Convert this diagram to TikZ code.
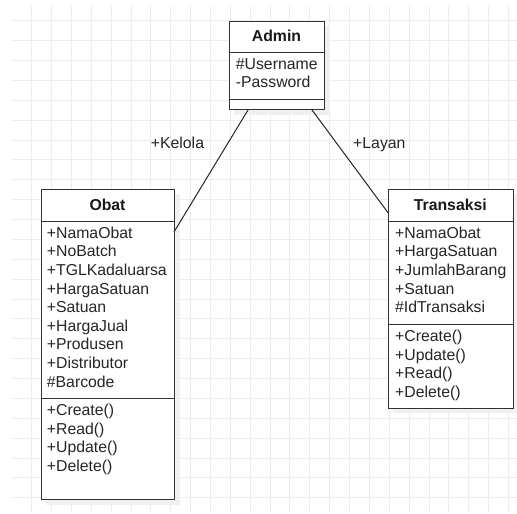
\documentclass[tikz,border=0pt]{standalone}
\usepackage{fontspec}
\setmainfont{Liberation Sans}
\begin{document}
\begin{tikzpicture}[x=1pt,y=-1pt,
  gridline/.style={draw=black!7, line width=0.8pt},
  shade/.style={fill=black!6, draw=none},
  compart/.style={draw=black!80, line width=1pt, fill=white},
  txt/.style={font=\fontsize{15.8}{18.6}\selectfont, text=black!85, inner sep=0pt, anchor=base west},
  ttl/.style={font=\fontsize{15.8}{18.6}\selectfont\bfseries, text=black!90, inner sep=0pt, anchor=base},
  assoc/.style={draw=black!85, line width=1pt}]
\useasboundingbox (0,0) rectangle (517,514);
\fill[white] (0,0) rectangle (517,514);
% grid
\foreach \k in {0,...,24} {
  \draw[gridline] ({31.7+19.86*\k},6) -- ({31.7+19.86*\k},513);
  \draw[gridline] (11.7,{20.7+19.875*\k}) -- (517,{20.7+19.875*\k});
}
% shadows
\fill[shade] (234,26) rectangle (330,115);
\fill[shade] (46,194) rectangle (180,505);
\fill[shade] (393,194) rectangle (518,413);
% Admin
\node[compart, anchor=north west, minimum width=95pt, minimum height=31pt] (adminH) at (229,21) {};
\node[compart, anchor=north west, minimum width=95pt, minimum height=47pt] (adminA) at (229,52) {};
\node[compart, anchor=north west, minimum width=95pt, minimum height=10pt] (adminM) at (229,99) {};
\node[ttl] (adminT) at (276.5,41.8) {Admin};
\node[txt] (adminA1) at (235.7,69.9) {\#Username};
\node[txt] (adminA2) at (235.7,87.3) {-Password};
% Obat
\node[compart, anchor=north west, minimum width=133pt, minimum height=32pt] (obatH) at (41,189) {};
\node[compart, anchor=north west, minimum width=133pt, minimum height=177pt] (obatA) at (41,221) {};
\node[compart, anchor=north west, minimum width=133pt, minimum height=101pt] (obatM) at (41,398) {};
\node[ttl] (obatT) at (107.5,210.6) {Obat};
\foreach \t [count=\i from 0] in {+NamaObat,+NoBatch,+TGLKadaluarsa,+HargaSatuan,+Satuan,+HargaJual,+Produsen,+Distributor,\#Barcode}
  \node[txt] (obatA\i) at (46.7,{238.3+18.6*\i}) {\t};
\foreach \t [count=\i from 0] in {+Create(),+Read(),+Update(),+Delete()}
  \node[txt] (obatM\i) at (46.7,{415.6+18.6*\i}) {\t};
% Transaksi
\node[compart, anchor=north west, minimum width=124.5pt, minimum height=32pt] (trH) at (388,189) {};
\node[compart, anchor=north west, minimum width=124.5pt, minimum height=103pt] (trA) at (388,221) {};
\node[compart, anchor=north west, minimum width=124.5pt, minimum height=84pt] (trM) at (388,324) {};
\node[ttl] (trT) at (450.3,210.6) {Transaksi};
\foreach \t [count=\i from 0] in {+NamaObat,+HargaSatuan,+JumlahBarang,+Satuan,\#IdTransaksi}
  \node[txt] (trA\i) at (395,{238.3+18.6*\i}) {\t};
\foreach \t [count=\i from 0] in {+Create(),+Update(),+Read(),+Delete()}
  \node[txt] (trM\i) at (395,{341.6+18.6*\i}) {\t};
% connectors
\coordinate (kA) at (248.3,109.5);
\coordinate (kB) at (174,232);
\coordinate (lA) at (311.7,109.5);
\coordinate (lB) at (388,212.7);
\draw[assoc] (kA) -- (kB);
\draw[assoc] (lA) -- (lB);
\node[txt] (kelola) at (150.7,148.3) {+Kelola};
\node[txt] (layan) at (353,148.3) {+Layan};
\end{tikzpicture}
\end{document}
